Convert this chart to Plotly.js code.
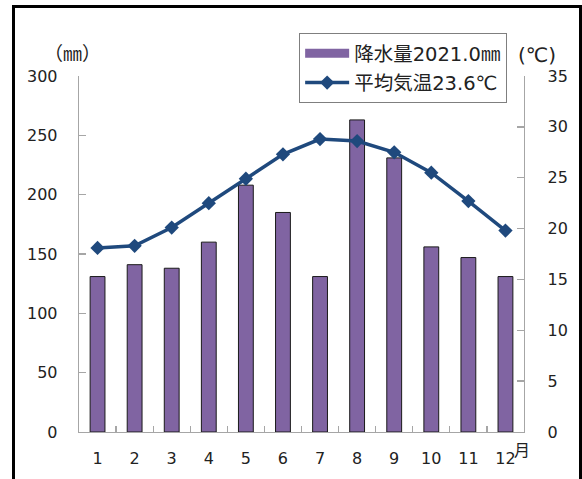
<!DOCTYPE html>
<html>
<head>
<meta charset="utf-8">
<script src="https://cdn.plot.ly/plotly-3.0.1.min.js"></script>
<style>
html,body{margin:0;padding:0;background:#fff;}
#wrap{position:relative;width:582px;height:479px;overflow:hidden;}
#chart{position:absolute;left:0;top:0;width:582px;height:479px;}
#frame{position:absolute;left:12px;top:5px;width:564px;height:500px;border-left:3px solid #000;border-top:3px solid #000;border-right:3px solid #000;pointer-events:none;}
</style>
</head>
<body>
<div id="wrap"><div id="chart"></div><div id="frame"></div></div>
<script>
const months = ['1','2','3','4','5','6','7','8','9','10','11','12'];
const precipitation = [131, 141, 138, 160, 208, 185, 131, 263, 231, 156, 147, 131];
const temperature = [18.1, 18.3, 20.1, 22.5, 24.9, 27.3, 28.8, 28.6, 27.5, 25.5, 22.7, 19.8];
const precipName = '降水量2021.0㎜';
const tempName = '平均気温23.6℃';

const FONT = 'DejaVu Sans, Noto Sans CJK JP, sans-serif';
const JFONT = 'Noto Sans CJK JP, DejaVu Sans, sans-serif';
const BAR_COLOR = '#8064A2';
const LINE_COLOR = '#1F497D';

const traces = [
  {
    type: 'bar', x: months, y: precipitation, name: precipName, yaxis: 'y',
    marker: {color: BAR_COLOR, line: {color: '#1a1a1a', width: 1}},
    showlegend: false, hoverinfo: 'none'
  },
  {
    // legend-only swatch for the precipitation bars (wide rectangle, like the original)
    type: 'scatter', mode: 'lines', x: [null], y: [null], name: precipName, yaxis: 'y',
    line: {color: BAR_COLOR, width: 9}, legendgroup: 'p', showlegend: true, hoverinfo: 'none'
  },
  {
    type: 'scatter', mode: 'lines+markers', x: months, y: temperature, name: tempName, yaxis: 'y2',
    line: {color: LINE_COLOR, width: 3.5},
    marker: {symbol: 'diamond', size: 11, color: LINE_COLOR},
    legendgroup: 't', hoverinfo: 'none'
  }
];

const axisCommon = {
  showgrid: false, zeroline: false, showline: true, linecolor: '#A6A6A6', linewidth: 1.3,
  ticks: 'inside', ticklen: 7, tickcolor: '#A6A6A6', tickwidth: 1.3, automargin: false,
  tickfont: {family: FONT, size: 16, color: '#222'}, fixedrange: true
};

const layout = {
  width: 582, height: 479,
  margin: {l: 79, r: 58, t: 76, b: 47, autoexpand: false},
  paper_bgcolor: 'rgba(0,0,0,0)', plot_bgcolor: 'rgba(0,0,0,0)',
  bargap: 0.6,
  showlegend: true,
  legend: {
    xref: 'container', yref: 'container',
    x: 0.514, y: 0.931, xanchor: 'left', yanchor: 'top',
    bgcolor: '#fff', bordercolor: '#7f7f7f', borderwidth: 1,
    font: {family: FONT, size: 19.5, color: '#222'},
    traceorder: 'grouped', tracegroupgap: 1, itemwidth: 44
  },
  xaxis: Object.assign({}, axisCommon, {
    type: 'category', range: [-0.5, months.length - 0.5],
    tickson: 'boundaries', ticklen: 6, ticklabelstandoff: 11
  }),
  yaxis: Object.assign({}, axisCommon, {
    range: [0, 300], dtick: 50, ticklabelstandoff: 17
  }),
  yaxis2: Object.assign({}, axisCommon, {
    range: [0, 35], dtick: 5, overlaying: 'y', side: 'right', ticklabelstandoff: 19
  }),
  annotations: [
    {text: '（㎜）', xref: 'paper', yref: 'paper', x: -0.0135, y: 1.067, showarrow: false,
     xanchor: 'center', yanchor: 'middle', font: {family: JFONT, size: 19, color: '#222'}},
    {text: '(℃)', xref: 'paper', yref: 'paper', x: 1.029, y: 1.059, showarrow: false,
     xanchor: 'center', yanchor: 'middle', font: {family: FONT, size: 20, color: '#222'}},
    {text: '月', xref: 'paper', yref: 'paper', x: 0.9955, y: -0.048, showarrow: false,
     xanchor: 'center', yanchor: 'middle', font: {family: JFONT, size: 16, color: '#222'}}
  ]
};

Plotly.newPlot('chart', traces, layout, {staticPlot: true, displayModeBar: false});
</script>
</body>
</html>
